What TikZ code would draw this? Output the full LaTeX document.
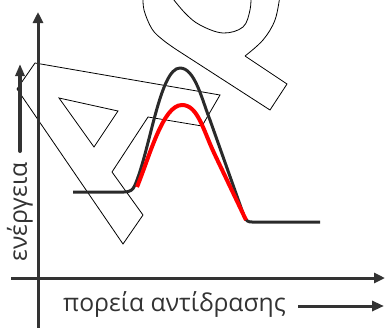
\documentclass[tikz,border=0pt]{standalone}
\usepackage{fontspec}
\setmainfont{Open Sans}
\usetikzlibrary{arrows.meta}
\definecolor{ink}{HTML}{333333}
\definecolor{crv}{HTML}{2A2A2A}
\begin{document}
\begin{tikzpicture}[x=1pt,y=-1pt,
  axis/.style={draw=ink,line width=3pt,-{Triangle[length=11pt,width=10pt]}},
  lbl/.style={text=ink,font=\fontsize{24.7}{28}\selectfont,inner sep=0pt},
  wm/.style={draw=black,line width=0.8pt,line join=miter},
  blk/.style={draw=crv,line width=3pt,line join=round},
  redc/.style={draw=red,line width=4pt,line cap=butt}]
\useasboundingbox (0,0) rectangle (385,327);
\clip (0,0) rectangle (385,327);
% watermark outlines
\draw[wm] (35,63) -- (220,95) -- (202,126) -- (148,117) -- (112,172) -- (143,215) -- (123,244) -- (17,89) -- cycle;
\draw[wm] (59,98) -- (118,111) -- (94,147) -- cycle;
\draw[wm] plot[smooth,tension=0.6] coordinates {(143,-5) (144,10) (152,29) (163,40) (177,50)} -- (270,110) -- (287,84) -- (245,56)
  plot[smooth,tension=0.6] coordinates {(245,56) (263,40) (275,20) (280,-5)};
\draw[wm] plot[smooth,tension=0.6] coordinates {(170,-5) (185,13) (200,25) (223,33) (243,27) (250,10) (251,-5)};
% axes
\coordinate (yb) at (38,330);
\coordinate (yt) at (38,12);
\coordinate (xl) at (11,278);
\coordinate (xr) at (385,278);
\draw[axis] (yb) -- (yt);
\draw[axis] (xl) -- (xr);
% energy arrow
\coordinate (eb) at (20,151);
\coordinate (et) at (20,64);
\draw[draw=ink,line width=4pt,line cap=round,-{Triangle[length=12pt,width=9pt]}] (eb) -- (et);
% labels
\node[lbl,rotate=90,anchor=base] (en) at (27,212) {ενέργεια};
\node[lbl,anchor=base west] (pr) at (63,311) {πορεία αντίδρασης};
\coordinate (ra) at (298,306);
\coordinate (rb) at (384,306);
\draw[draw=ink,line width=3pt,-{Triangle[length=12pt,width=10pt]}] (ra) -- (rb);
% curves
\draw[blk] (73,192) -- (124,192) .. controls (130,192) and (133,190) .. (135,185)
  .. controls (150,150) and (160,68) .. (180,68)
  .. controls (195,68) and (202,100) .. (210,120) -- (244,216)
  .. controls (246,221) and (248,222) .. (252,222) -- (320,222);
\draw[redc] (137,187) .. controls (150,155) and (163,105) .. (182,105)
  .. controls (198,105) and (203,130) .. (215,155) -- (246,220);
\end{tikzpicture}
\end{document}
